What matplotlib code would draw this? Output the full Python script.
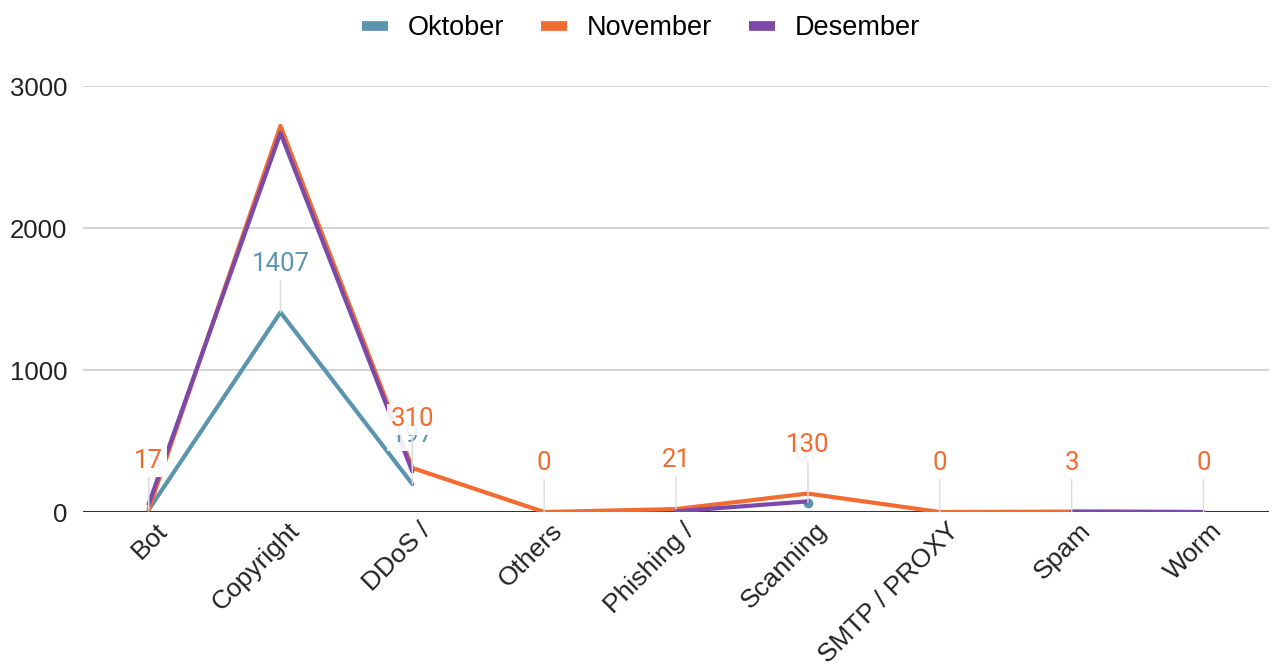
import numpy as np
import matplotlib
matplotlib.use("Agg")
import matplotlib.pyplot as plt
import matplotlib.transforms as mtransforms

categories = ["Bot", "Copyright", "DDoS /", "Others", "Phishing /",
              "Scanning", "SMTP / PROXY", "Spam", "Worm"]
oktober = [15, 1407, 197, None, None, 67, None, None, None]
november = [17, 2720, 310, 0, 21, 130, 0, 3, 0]
desember = [55, 2670, 285, None, 5, 75, None, 3, 0]
series_names = ["Oktober", "November", "Desember"]
colors = ["#5a94ae", "#f26b30", "#7b4aa8"]
# the chart shows no label on the November peak
november_hidden_labels = ["Copyright"]

plt.rcParams["font.family"] = ["Liberation Sans", "DejaVu Sans"]

fig = plt.figure(figsize=(12.72, 6.68), dpi=100)
ax = fig.add_axes([0.065, 0.2335, 0.933, 0.6375])

x = np.arange(len(categories))


def to_arr(vals):
    return np.array([np.nan if v is None else v for v in vals], dtype=float)


all_series = [oktober, november, desember]
for i, (vals, name, c) in enumerate(zip(all_series, series_names, colors)):
    y = to_arr(vals)
    ax.plot(x, y, color=c, lw=3.0, solid_capstyle="round", zorder=3 + i, label=name)
    # isolated points show as dots
    for j in range(len(y)):
        if np.isnan(y[j]):
            continue
        left = j == 0 or np.isnan(y[j - 1])
        right = j == len(y) - 1 or np.isnan(y[j + 1])
        if left and right:
            ax.plot(x[j], y[j], "o", color=c, ms=6, zorder=3 + i)

# data labels (Oktober then November on top)
label_series = [(oktober, "#5e95b1", []), (november, "#f26b30", november_hidden_labels)]
for k, (vals, c, hidden) in enumerate(label_series):
    for j, v in enumerate(vals):
        if v is None or categories[j] in hidden:
            continue
        ax.annotate(str(v), xy=(x[j], v), xytext=(0, 35), textcoords="offset points",
                    ha="center", va="center", fontsize=18.5, color=c, family="Roboto",
                    zorder=10 + k,
                    bbox=dict(boxstyle="square,pad=0.15", fc="white", ec="none", alpha=0.9),
                    arrowprops=dict(arrowstyle="-", color="#dddddd", lw=1,
                                    shrinkA=0, shrinkB=0))

ax.set_xlim(-0.5, len(categories) - 0.5)
ax.set_ylim(0, 3000)
ax.set_yticks([0, 1000, 2000, 3000])
ax.tick_params(axis="y", labelsize=18.5, length=0, pad=11, colors="#222222")
ax.grid(axis="y", color="#cccccc", lw=1.2)
ax.set_axisbelow(True)
ax.axhline(0, color="#333333", lw=1.5, zorder=2)
for s in ax.spines.values():
    s.set_visible(False)

ax.set_xticks(x)
ax.set_xticklabels(categories, rotation=45, ha="right", va="center",
                   rotation_mode="anchor", fontsize=19, color="#222222")
ax.tick_params(axis="x", length=0, pad=0)
offset = mtransforms.ScaledTranslation(0.15, -0.15, fig.dpi_scale_trans)
for lbl in ax.get_xticklabels():
    lbl.set_transform(lbl.get_transform() + offset)

handles = [plt.Line2D([], [], color=c, lw=7, solid_capstyle="butt") for c in colors]
fig.legend(handles, series_names, loc="center", bbox_to_anchor=(0.504, 0.958), ncol=3,
           frameon=False, fontsize=19.5, handlelength=0.95, columnspacing=1.35,
           handletextpad=0.75)

fig.savefig("out.png", dpi=100)
